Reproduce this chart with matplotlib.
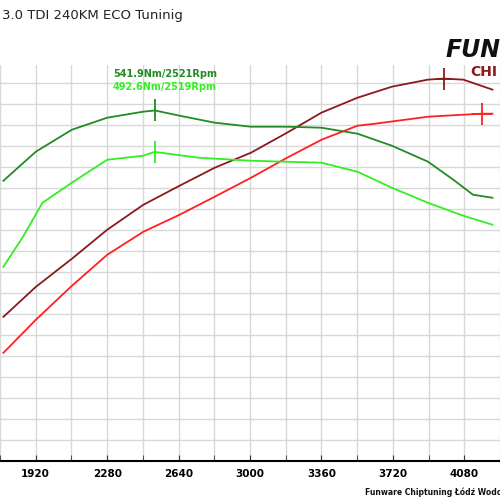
import matplotlib.pyplot as plt
import numpy as np

# tuned torque (dark green)
rpm_tq_tuned = [1757, 1920, 2102, 2280, 2462, 2521, 2645, 2822, 3005, 3187, 3360, 3542, 3715, 3897, 4025, 4124, 4222]
tq_tuned = [458.3, 492.8, 519.0, 533.3, 540.5, 541.9, 535.7, 527.4, 522.6, 522.6, 521.4, 514.3, 500.0, 481.0, 459.5, 441.7, 438.1]
# stock torque (light green)
rpm_tq_stock = [1757, 1856, 1954, 2102, 2280, 2462, 2519, 2743, 3005, 3360, 3542, 3715, 3897, 4075, 4222]
tq_stock = [356.0, 391.7, 432.1, 456.0, 483.3, 488.1, 492.6, 485.7, 482.1, 479.8, 469.0, 450.0, 432.1, 416.7, 406.0]
# tuned power (dark red) and stock power (red), plotted on the same scale
rpm_pw = [1757, 1920, 2102, 2280, 2462, 2645, 2822, 3005, 3187, 3360, 3542, 3715, 3897, 3976, 4075, 4222]
pw_tuned = [296.4, 332.0, 365.5, 400.0, 429.7, 452.4, 473.8, 491.7, 515.5, 539.3, 557.1, 570.2, 578.6, 579.8, 578.6, 566.7]
rpm_pw_stock = [1757, 1920, 2102, 2280, 2462, 2645, 2822, 3005, 3187, 3360, 3542, 3631, 3897, 4168, 4222]
pw_stock = [253.6, 292.8, 333.3, 370.2, 397.6, 417.9, 439.3, 461.9, 485.7, 507.1, 523.8, 526.2, 534.5, 538.1, 538.1]

x_ticks = [1920, 2280, 2640, 3000, 3360, 3720, 4080]

fig = plt.figure(figsize=(5, 5), dpi=100)
ax = fig.add_axes([0, 0.078, 1, 0.792])
ax.set_xlim(1757, 4222)
ax.set_ylim(125, 596)

ax.set_xticks(x_ticks)
ax.set_xticks(np.arange(1740, 4300, 180), minor=True)
ax.set_yticks(np.arange(150, 600, 25))
ax.grid(True, which="both", color="#d8d8d8", lw=1)
ax.set_axisbelow(True)
ax.set_xticklabels([str(t) for t in x_ticks], fontsize=7.5, fontweight="bold")
ax.tick_params(axis="x", which="both", direction="in", length=4, pad=6, color="#333")
ax.tick_params(axis="y", left=False, labelleft=False)
for s in ["top", "left", "right"]:
    ax.spines[s].set_visible(False)
ax.spines["bottom"].set_linewidth(1.5)

ax.plot(rpm_pw_stock, pw_stock, color="#ff2020", lw=1.3)
ax.plot(rpm_pw, pw_tuned, color="#8b1a1a", lw=1.3)
ax.plot(rpm_tq_stock, tq_stock, color="#33ee22", lw=1.3)
ax.plot(rpm_tq_tuned, tq_tuned, color="#228b22", lw=1.3)

# peak markers
ax.plot([2521], [541.9], marker="|", ms=16, mew=1.3, color="#228b22")
ax.plot([2519], [492.6], marker="|", ms=16, mew=1.3, color="#33ee22")
ax.plot([3976], [579.8], marker="|", ms=16, mew=1.3, color="#8b1a1a")
ax.plot([4168], [538.1], marker="|", ms=16, mew=1.3, color="#ff2020")
ax.plot([4168], [538.1], marker="_", ms=14, mew=1.3, color="#ff2020")
ax.plot([3976], [579.8], marker="_", ms=12, mew=1.3, color="#8b1a1a")

ax.text(2571, 585.7, "541.9Nm/2521Rpm", fontsize=7, fontweight="bold", color="#228b22", ha="center", va="center")
ax.text(2571, 570.2, "492.6Nm/2519Rpm", fontsize=7, fontweight="bold", color="#33ee22", ha="center", va="center")

fig.text(0.005, 0.968, "3.0 TDI 240KM ECO Tuninig", fontsize=9.5, color="#222", va="center")
fig.text(0.89, 0.9, "FUN", fontsize=17, fontweight="bold", style="italic", color="#111", va="center")
fig.text(0.94, 0.855, "CHI", fontsize=10, fontweight="bold", color="#8b1a1a", va="center")
fig.text(0.73, 0.016, "Funware Chiptuning Łódź Wodo", fontsize=5.5, fontweight="bold", color="#111", va="center")

fig.savefig("out.png", dpi=100)
